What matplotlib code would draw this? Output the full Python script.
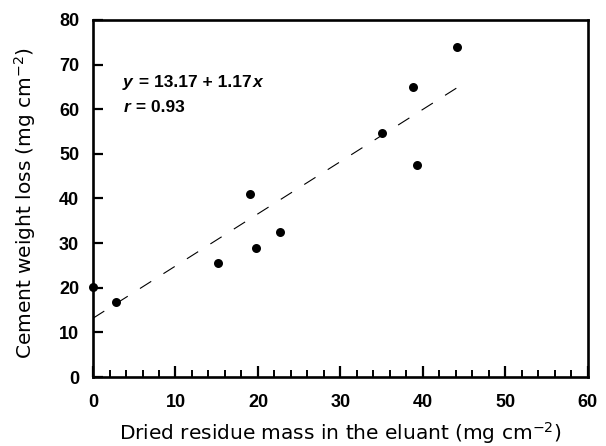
import matplotlib
matplotlib.use("Agg")
import matplotlib.pyplot as plt
import numpy as np

residue_mass = [0.0, 2.8, 15.2, 19.0, 19.8, 22.7, 35.0, 38.8, 39.3, 44.1]
weight_loss = [20.1, 16.7, 25.5, 41.1, 29.0, 32.4, 54.6, 64.9, 47.6, 73.9]
intercept = 13.17
slope = 1.17
r_value = 0.93
x_ticks = [0, 10, 20, 30, 40, 50, 60]
y_ticks = [0, 10, 20, 30, 40, 50, 60, 70, 80]

plt.rcParams['font.family'] = ['Liberation Sans', 'DejaVu Sans']
plt.rcParams['mathtext.fontset'] = 'dejavusans'

fig = plt.figure(figsize=(6.06, 4.46), dpi=100)
ax = fig.add_axes([0.1535, 0.1547, 0.8165, 0.8005])

xs = np.array([min(residue_mass), max(residue_mass)])
ax.plot(xs, intercept + slope * xs, color='black', lw=0.8,
        linestyle=(0, (12, 13)), zorder=2)
ax.scatter(residue_mass, weight_loss, s=42, color='black', zorder=3,
           clip_on=False, linewidths=0)

ax.set_xlim(0, 60)
ax.set_ylim(0, 80)
ax.set_xticks(x_ticks)
ax.set_yticks(y_ticks)
ax.set_xticks(np.arange(0, 61, 2), minor=True)
for s in ax.spines.values():
    s.set_linewidth(1.9)
ax.tick_params(axis='x', which='major', direction='in', length=8, width=1.6,
               labelsize=13, pad=12)
ax.tick_params(axis='x', which='minor', direction='in', length=5, width=1.4)
ax.tick_params(axis='y', which='major', direction='in', length=7, width=1.6,
               labelsize=13, pad=10)
for lab in ax.get_xticklabels() + ax.get_yticklabels():
    lab.set_fontweight('bold')

ax.set_xlabel('Dried residue mass in the eluant (mg cm$^{-2}$)',
              fontsize=14.5, family='DejaVu Sans')
ax.set_ylabel('Cement weight loss (mg cm$^{-2}$)', fontsize=14.5,
              family='DejaVu Sans')
ax.xaxis.label.set_verticalalignment('baseline')
ax.yaxis.label.set_verticalalignment('baseline')
ax.xaxis.set_label_coords(0.5, -0.1765)
ax.yaxis.set_label_coords(-0.123, 0.487)

eq_font = {'weight': 'bold', 'size': 12.5}
fig.canvas.draw()
r = fig.canvas.get_renderer()


def chain(y, pieces):
    x0 = 0.061
    for s, st in pieces:
        t = ax.text(x0, y, s, style=st, transform=ax.transAxes, va='center',
                    fontdict=eq_font)
        bb = t.get_window_extent(renderer=r)
        x0 = ax.transAxes.inverted().transform((bb.x1, bb.y0))[0] + 0.002


chain(0.826, [('y', 'italic'), (' = %.2f + %.2f' % (intercept, slope), 'normal'),
              ('x', 'italic')])
chain(0.754, [('r', 'italic'), (' = %.2f' % r_value, 'normal')])

fig.savefig('out.png', dpi=100)
